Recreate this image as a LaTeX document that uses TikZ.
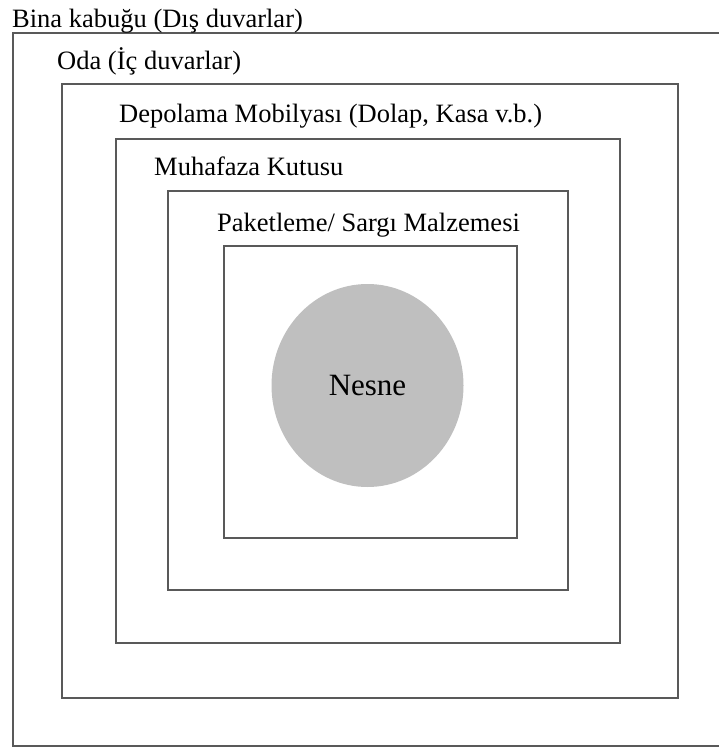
\documentclass[tikz,border=0pt]{standalone}
\usepackage{fontspec}
\setmainfont{Liberation Serif}
\usetikzlibrary{shapes.geometric}

\tikzset{
  katman/.style={draw=black!65, line width=1.4pt},
  etiket/.style={anchor=base west, inner sep=0pt, font=\fontsize{26.5}{30}\selectfont},
}

\begin{document}
\begin{tikzpicture}[x=1pt, y=-1pt]

  \useasboundingbox (0,0) rectangle (719,749);
  \clip (0,0) rectangle (719,749);

  % katmanlar, disaridan iceriye
  \draw[katman] (13,33) rectangle (740,746);
  \draw[katman] (62,84) rectangle (678,698);
  \draw[katman] (116,139) rectangle (620,643);
  \draw[katman] (168,191) rectangle (568,590);
  \draw[katman] (224,246) rectangle (517,538);

  \node[etiket] (bina) at (12,28) {Bina kabuğu (Dış duvarlar)};
  \node[etiket] (oda) at (57,70) {Oda (İç duvarlar)};
  \node[etiket] (depo) at (119,122) {Depolama Mobilyası (Dolap, Kasa v.b.)};
  \node[etiket] (kutu) at (154,175) {Muhafaza Kutusu};
  \node[etiket] (paket) at (217,231) {Paketleme/ Sargı Malzemesi};

  \node[ellipse, fill=black!25, minimum width=192pt, minimum height=203pt, inner sep=0pt,
        font=\fontsize{31}{34}\selectfont] (nesne) at (367.5,385.5) {Nesne};

\end{tikzpicture}
\end{document}
